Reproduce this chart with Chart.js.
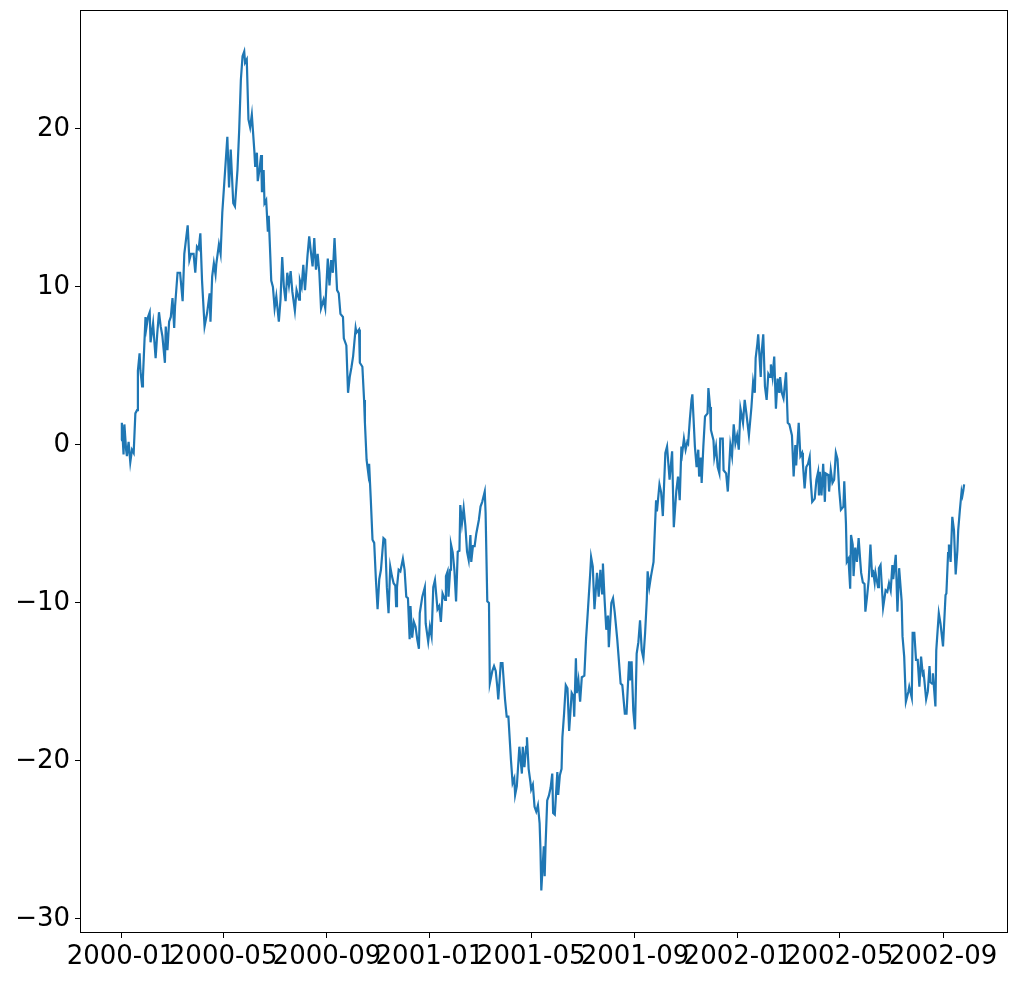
<!DOCTYPE html>
<html>
<head>
<meta charset="utf-8">
<script src="https://cdn.jsdelivr.net/npm/chart.js@4.4.1/dist/chart.umd.min.js"></script>
<style>
    body { margin: 0; background: #fff; }
    #wrap { width: 1018px; height: 981px; }
</style>
</head>
<body>
<div id="wrap"><canvas id="chart" width="1018" height="981"></canvas></div>
<script>
// day offsets from 2000-01-01 and the walk values
const days = [
    0, 1, 3, 4, 6, 7, 9, 11, 13, 15, 17, 19, 20, 22, 23, 25, 26, 29, 30, 32,
    34, 35, 38, 40, 41, 43, 45, 47, 49, 52, 53, 55, 57, 59, 61, 63, 64, 67, 70, 73,
    75, 79, 81, 83, 86, 88, 90, 92, 94, 96, 99, 102, 105, 106, 108, 110, 112, 113, 116, 118,
    120, 124, 126, 128, 130, 133, 135, 138, 140, 142, 144, 146, 147, 149, 151, 153, 155, 158, 159, 161,
    162, 164, 166, 167, 169, 170, 172, 174, 175, 177, 178, 180, 182, 184, 187, 189, 191, 193, 195, 197,
    199, 201, 203, 206, 208, 211, 212, 214, 216, 218, 221, 223, 225, 227, 229, 231, 233, 235, 237, 240,
    242, 245, 247, 249, 251, 253, 256, 258, 260, 263, 264, 267, 269, 271, 273, 275, 278, 279, 282, 283,
    286, 288, 289, 291, 293, 294, 296, 298, 300, 302, 304, 306, 308, 311, 313, 315, 317, 319, 321, 323,
    325, 326, 327, 329, 331, 334, 336, 338, 340, 342, 343, 345, 347, 349, 351, 353, 354, 357, 358, 360,
    361, 364, 366, 368, 370, 372, 375, 377, 379, 381, 384, 385, 387, 388, 390, 391, 393, 395, 397, 399,
    401, 402, 404, 406, 408, 410, 412, 414, 415, 417, 419, 421, 424, 426, 428, 431, 432, 434, 436, 437,
    440, 442, 444, 446, 447, 450, 452, 455, 457, 459, 462, 464, 466, 467, 469, 472, 475, 476, 478, 480,
    481, 483, 485, 486, 488, 490, 492, 494, 496, 497, 498, 500, 501, 502, 503, 505, 507, 509, 511, 512,
    514, 515, 517, 518, 520, 522, 523, 525, 527, 529, 531, 534, 536, 537, 539, 540, 542, 544, 546, 549,
    551, 553, 556, 557, 559, 561, 564, 566, 568, 570, 571, 573, 575, 577, 578, 581, 583, 585, 588, 590,
    592, 594, 597, 599, 602, 603, 605, 607, 609, 611, 613, 615, 617, 619, 621, 623, 624, 626, 628, 631,
    634, 635, 638, 640, 642, 645, 647, 650, 653, 655, 658, 660, 662, 664, 665, 667, 669, 671, 672, 674,
    676, 677, 680, 682, 684, 685, 687, 688, 690, 692, 695, 696, 698, 699, 702, 703, 705, 707, 709, 710,
    713, 714, 717, 719, 722, 724, 726, 728, 730, 732, 734, 737, 739, 741, 744, 747, 749, 751, 752, 754,
    755, 758, 759, 761, 763, 765, 767, 769, 770, 772, 774, 776, 778, 780, 781, 783, 785, 788, 790, 792,
    795, 797, 799, 800, 802, 803, 805, 807, 808, 810, 812, 814, 816, 817, 819, 822, 824, 826, 827, 828,
    830, 832, 834, 835, 838, 839, 841, 843, 845, 847, 849, 851, 853, 856, 857, 859, 860, 862, 864, 865,
    867, 868, 870, 872, 874, 876, 877, 879, 881, 882, 884, 886, 888, 890, 891, 893, 894, 897, 898, 900,
    902, 903, 906, 908, 910, 912, 914, 915, 918, 920, 922, 925, 926, 928, 930, 933, 934, 937, 938, 940,
    942, 944, 946, 948, 950, 951, 954, 956, 958, 959, 961, 962, 965, 966, 969, 971, 974, 977, 978, 980,
    981, 983, 985, 987, 989, 991, 992, 994, 996, 997, 998, 999
];

const values = [
    0.3, 1.4, -0.6, 1.3, -0.3, -0.7, 0.2, -1.1, -0.3, -0.5, 2.0, 2.2, 4.7, 5.8, 4.7, 3.7, 4.3, 8.1, 7.4, 8.1,
    8.4, 6.5, 7.7, 6.2, 5.5, 7.1, 8.4, 7.5, 6.9, 5.2, 7.5, 6.0, 7.8, 8.1, 9.3, 7.4, 8.75, 10.9, 10.9, 9.1,
    12.1, 13.9, 11.7, 12.1, 12.1, 10.9, 12.55, 12.4, 13.4, 10.4, 7.5, 8.35, 9.6, 7.8, 10.65, 11.5, 10.8, 11.5, 12.7, 12.1,
    14.7, 17.9, 19.5, 16.3, 18.7, 15.3, 15.1, 17.4, 19.9, 23.1, 24.6, 24.9, 24.2, 24.4, 20.6, 20.1, 20.9, 18.6, 17.6, 18.5,
    16.7, 17.4, 18.35, 16.0, 17.4, 15.3, 15.5, 13.5, 14.5, 11.8, 10.4, 10.0, 8.65, 9.4, 7.8, 9.2, 11.9, 10.0, 9.1, 10.9,
    10.1, 11.0, 9.7, 8.5, 9.8, 9.2, 10.4, 10.0, 11.4, 9.8, 12.0, 13.2, 12.2, 11.3, 13.1, 11.1, 12.1, 10.9, 8.65, 9.2,
    8.65, 11.8, 10.1, 11.7, 10.9, 13.1, 9.8, 9.6, 8.3, 8.1, 6.75, 6.3, 3.3, 4.3, 4.9, 5.6, 7.4, 7.1, 7.3, 5.2,
    4.95, 2.85, 1.4, -0.95, -1.8, -1.2, -3.5, -6.0, -6.2, -8.5, -10.4, -8.5, -7.9, -5.9, -6.0, -9.0, -10.65, -7.7, -8.3, -8.75,
    -8.9, -10.2, -9.0, -7.9, -8.0, -7.2, -7.9, -9.6, -9.7, -12.3, -10.2, -12.2, -11.2, -11.5, -12.3, -12.9, -10.65, -9.6, -9.4, -9.0,
    -11.3, -12.45, -11.5, -12.1, -9.0, -8.55, -10.4, -10.2, -11.2, -9.4, -9.8, -8.3, -8.0, -9.6, -7.9, -6.3, -6.8, -7.9, -9.9, -6.75,
    -6.7, -3.8, -4.95, -4.0, -5.1, -6.75, -7.3, -5.7, -7.4, -6.4, -6.4, -5.6, -4.75, -3.9, -3.6, -2.95, -4.3, -9.9, -10.0, -15.1,
    -14.3, -14.0, -14.3, -15.4, -16.1, -13.8, -13.8, -16.1, -17.2, -17.2, -19.9, -21.4, -21.1, -22.15, -21.6, -19.1, -20.8, -19.1, -20.4, -19.1,
    -18.5, -20.5, -21.3, -21.8, -21.5, -22.9, -23.2, -22.8, -23.95, -25.6, -28.2, -26.3, -25.4, -27.3, -25.4, -22.5, -22.2, -21.7, -20.8, -23.3,
    -23.4, -22.5, -20.7, -22.15, -20.9, -20.5, -18.5, -17.0, -15.2, -15.4, -18.1, -15.7, -15.9, -17.2, -13.5, -15.7, -14.9, -16.25, -14.7, -14.6,
    -12.3, -10.65, -8.1, -7.1, -7.7, -10.4, -8.1, -9.6, -7.9, -9.4, -7.5, -9.8, -11.7, -10.8, -12.8, -10.0, -9.7, -10.6, -12.3, -13.7,
    -15.1, -15.2, -17.0, -17.0, -13.7, -14.9, -13.7, -16.8, -18.0, -13.2, -12.5, -11.1, -13.0, -13.5, -11.9, -9.8, -8.0, -9.0, -8.3, -7.4,
    -3.5, -4.2, -2.5, -3.0, -4.5, -0.5, -0.1, -2.2, -0.4, -5.2, -2.9, -2.0, -3.5, -0.1, -0.5, 0.4, -0.3, 0.2, 0.1, 1.6,
    2.85, 3.2, -0.1, -1.4, -0.3, -2.0, -0.8, -2.4, -0.1, 1.8, 2.0, 3.6, 2.4, 0.95, 0.3, -0.75, -0.1, -1.4, -1.8, 0.4,
    0.4, -1.6, -1.8, -2.95, 0.0, -0.7, 1.3, 0.1, 0.6, -0.3, 2.3, 1.4, 2.85, 2.0, 0.6, 2.4, 4.0, 3.3, 5.5, 6.4,
    7.0, 4.3, 5.8, 7.0, 3.7, 2.85, 4.5, 4.3, 5.1, 4.3, 5.6, 2.3, 4.2, 3.3, 4.3, 3.3, 2.95, 4.6, 1.4, 1.3,
    0.6, -2.0, 0.0, -1.3, 0.5, 1.4, -0.7, -0.5, -1.2, -2.75, -1.4, -1.2, -0.75, -2.1, -3.6, -3.4, -2.2, -1.7, -3.2, -1.7,
    -3.2, -1.2, -3.6, -1.8, -1.9, -2.95, -1.6, -2.4, -2.2, -0.5, -0.9, -2.85, -4.1, -3.9, -2.3, -5.0, -7.4, -7.2, -9.1, -5.7,
    -6.3, -8.3, -6.5, -7.4, -5.9, -7.4, -8.1, -8.7, -8.8, -10.55, -9.6, -8.5, -6.3, -8.3, -7.9, -8.7, -8.1, -9.0, -7.8, -7.6,
    -9.4, -10.3, -9.2, -9.3, -8.75, -9.2, -7.6, -8.5, -6.95, -10.55, -7.8, -9.9, -12.1, -13.4, -16.25, -15.6, -15.3, -16.0, -11.9, -11.9,
    -13.6, -13.6, -15.3, -13.4, -14.5, -14.4, -16.1, -15.6, -14.0, -15.0, -15.1, -14.45, -16.55, -13.0, -10.65, -11.3, -12.75, -9.5, -9.4, -6.85,
    -6.3, -7.4, -4.55, -5.4, -8.2, -6.7, -5.4, -4.1, -2.95, -3.2, -2.9, -2.5
];

// ticks: month starts as day offsets from 2000-01-01
const xTickDays   = [0, 121, 244, 366, 486, 609, 731, 851, 974];
const xTickLabels = ["2000-01", "2000-05", "2000-09", "2001-01", "2001-05", "2001-09", "2002-01", "2002-05", "2002-09"];
const yTicks      = [-30, -20, -10, 0, 10, 20];

const tickFont = { family: "DejaVu Sans", size: 26 };

// matplotlib style frame drawn over the data
const frame = {
    id: "frame",
    afterDatasetsDraw(chart) {
        const { ctx, chartArea: a } = chart;
        ctx.save();
        ctx.strokeStyle = "#000";
        ctx.lineWidth = 1;
        ctx.strokeRect(a.left + 0.5, a.top + 0.5, a.right - a.left - 1, a.bottom - a.top - 1);
        ctx.restore();
    }
};

new Chart(document.getElementById("chart"), {
    type: "line",
    data: {
        datasets: [{
            data: days.map((d, i) => ({ x: d, y: values[i] })),
            borderColor: "#1f77b4",
            borderWidth: 2.2,
            pointRadius: 0,
            tension: 0,
            fill: false
        }]
    },
    options: {
        responsive: false,
        animation: false,
        events: [],
        layout: { padding: { top: 10, right: 10, left: 0, bottom: 0 } },
        plugins: { legend: { display: false }, tooltip: { enabled: false } },
        scales: {
            x: {
                type: "linear",
                min: -48.6,
                max: 1051,
                afterBuildTicks: axis => { axis.ticks = xTickDays.map(v => ({ value: v })); },
                afterFit: axis => {
                    axis.height = 48;
                    axis.paddingLeft = 0;
                    axis.paddingRight = 0;
                },
                ticks: {
                    autoSkip: false,
                    maxRotation: 0,
                    minRotation: 0,
                    padding: 4,
                    color: "#000",
                    font: tickFont,
                    callback: v => xTickLabels[xTickDays.indexOf(v)]
                },
                grid: { drawOnChartArea: false, drawTicks: true, tickLength: 5, tickColor: "#000", lineWidth: 1 },
                border: { display: false }
            },
            y: {
                min: -30.89,
                max: 27.53,
                afterBuildTicks: axis => { axis.ticks = yTicks.map(v => ({ value: v })); },
                afterFit: axis => {
                    axis.width = 80;
                    axis.paddingTop = 0;
                    axis.paddingBottom = 0;
                },
                ticks: {
                    padding: 5,
                    color: "#000",
                    font: tickFont,
                    callback: v => v < 0 ? "\u2212" + Math.abs(v) : String(v)
                },
                grid: { drawOnChartArea: false, drawTicks: true, tickLength: 5, tickColor: "#000", lineWidth: 1 },
                border: { display: false }
            }
        }
    },
    plugins: [frame]
});
</script>
</body>
</html>
